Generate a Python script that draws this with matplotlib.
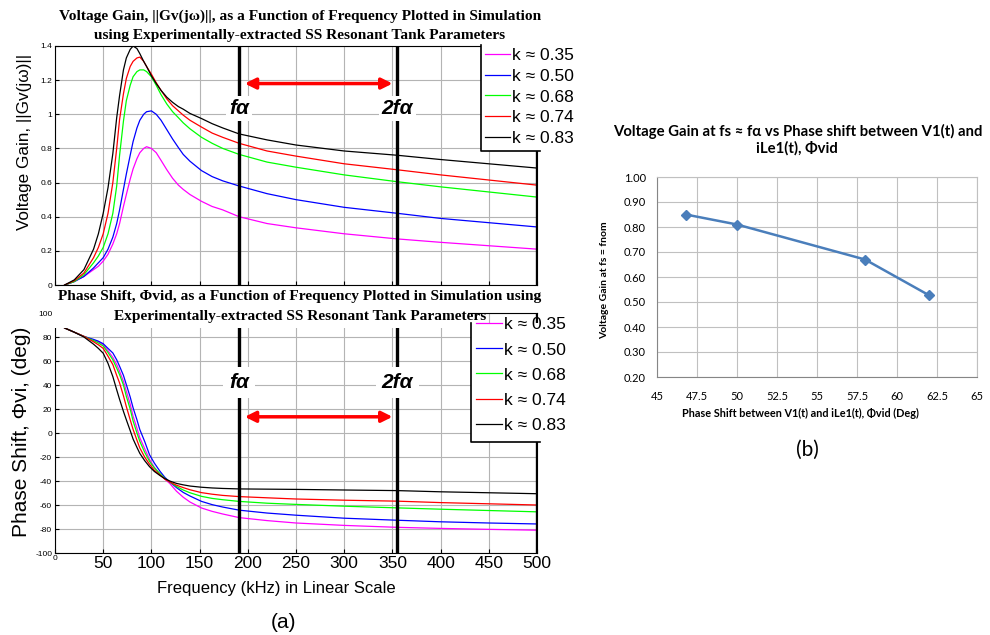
import matplotlib
matplotlib.use("Agg")
import matplotlib.pyplot as plt
from matplotlib.lines import Line2D
from matplotlib.patches import Rectangle

# --- data ---
k_labels = ['k ≈ 0.35', 'k ≈ 0.50', 'k ≈ 0.68', 'k ≈ 0.74', 'k ≈ 0.83']
k_colors = ['#ff00ff', '#0000ff', '#00ff00', '#ff0000', '#000000']

freq_gain = [10, 20, 30, 40, 45, 50, 55, 60, 64, 67, 71, 74, 78, 81, 85, 88, 92, 95, 100, 105,
             110, 116, 122, 128, 133, 140, 152, 163, 174, 191, 220, 250, 300, 355, 400, 450, 500]
gain_035 = [0, 0.02, 0.05, 0.09, 0.11, 0.14, 0.18, 0.24, 0.30, 0.36, 0.46, 0.53, 0.62, 0.68, 0.74, 0.775, 0.80, 0.81, 0.80, 0.775,
            0.73, 0.675, 0.625, 0.585, 0.56, 0.53, 0.49, 0.46, 0.44, 0.40, 0.36, 0.335, 0.30, 0.27, 0.25, 0.23, 0.21]
gain_050 = [0, 0.02, 0.05, 0.10, 0.13, 0.16, 0.21, 0.28, 0.36, 0.44, 0.56, 0.65, 0.76, 0.84, 0.92, 0.965, 1.0, 1.015, 1.02, 1.0,
            0.965, 0.91, 0.855, 0.805, 0.765, 0.725, 0.67, 0.635, 0.61, 0.58, 0.535, 0.50, 0.455, 0.42, 0.39, 0.365, 0.34]
gain_068 = [0, 0.02, 0.06, 0.13, 0.17, 0.22, 0.30, 0.42, 0.58, 0.76, 0.96, 1.08, 1.17, 1.22, 1.25, 1.26, 1.26, 1.25, 1.22, 1.17,
            1.115, 1.06, 1.015, 0.98, 0.95, 0.915, 0.865, 0.83, 0.80, 0.765, 0.72, 0.69, 0.645, 0.605, 0.575, 0.545, 0.515]
gain_074 = [0, 0.025, 0.07, 0.16, 0.22, 0.30, 0.42, 0.60, 0.80, 0.97, 1.12, 1.21, 1.28, 1.31, 1.33, 1.335, 1.31, 1.28, 1.235, 1.185,
            1.14, 1.09, 1.05, 1.02, 0.995, 0.965, 0.925, 0.89, 0.865, 0.83, 0.785, 0.755, 0.71, 0.675, 0.645, 0.615, 0.585]
gain_083 = [0, 0.03, 0.09, 0.21, 0.30, 0.42, 0.57, 0.77, 0.98, 1.11, 1.26, 1.33, 1.38, 1.40, 1.385, 1.355, 1.31, 1.28, 1.225, 1.18,
            1.14, 1.10, 1.07, 1.045, 1.03, 1.005, 0.975, 0.945, 0.92, 0.885, 0.85, 0.82, 0.785, 0.76, 0.735, 0.71, 0.685]

freq_phase = [10, 20, 30, 40, 45, 50, 55, 60, 64, 67, 71, 74, 78, 81, 85, 88, 93, 98, 103, 109,
              114, 119, 126, 133, 140, 152, 163, 174, 191, 220, 250, 300, 355, 400, 450, 500]
phase_035 = [87.5, 84, 80.5, 77.5, 76, 73.5, 68.5, 63, 57, 51.4, 43, 34.7, 24, 14, 4, -4, -13, -22, -28.5, -34.7,
             -38.5, -42, -48.5, -53.5, -57.5, -62.5, -65.3, -67.5, -70.5, -73, -75, -77, -78.6, -79.5, -80.3, -81]
phase_050 = [87.5, 84, 80.5, 78, 76.5, 74.4, 70.5, 66.7, 61, 55.6, 48, 40.3, 30, 21, 11, 2.8, -7, -18, -25, -32,
             -37, -40.8, -45.5, -49.5, -52.5, -57, -59.7, -61.7, -64.3, -66.7, -68.5, -71, -72.7, -74, -75, -75.8]
phase_068 = [87.5, 84, 80.5, 77, 75, 72.5, 67, 61, 54, 48.6, 40, 30.5, 20, 10, 0, -7, -16, -23.6, -29, -34,
             -38, -40.8, -44.5, -47.5, -49.8, -52.8, -54.5, -55.6, -57, -58.5, -59.5, -61, -62.4, -63.5, -64.6, -65.7]
phase_074 = [87.5, 84, 80.5, 76, 73.5, 70.5, 64, 57, 48, 41.7, 31, 22, 11, 3, -6, -12.5, -20, -26, -31, -35,
             -38.5, -40.8, -43.5, -45.5, -47.3, -49.7, -51, -52, -53, -54, -55, -56, -56.8, -58, -59, -60]
phase_083 = [87.5, 84, 80, 74, 70.5, 66.5, 58, 47, 36, 28, 18, 11, 2, -5, -12, -17, -23, -28, -32, -35.5,
             -38, -40, -42, -43.2, -44.2, -45.2, -45.8, -46.2, -46.6, -46.8, -47, -47.5, -48, -49, -49.8, -50.6]

gains = [gain_035, gain_050, gain_068, gain_074, gain_083]
phases = [phase_035, phase_050, phase_068, phase_074, phase_083]

f_alpha = 191
f_2alpha = 355

phase_b = [46.8, 50.0, 58.0, 62.0]
gain_b = [0.85, 0.81, 0.67, 0.527]

W, H = 990, 635
fig = plt.figure(figsize=(W / 100, H / 100), dpi=100)


def box(l, t, r, b):
    return [l / W, 1 - b / H, (r - l) / W, (b - t) / H]


def fx(px):
    return px / W


def fy(py):
    return 1 - py / H


sans = 'Liberation Sans'
serif = 'Liberation Serif'
grid_kw = dict(color='#b4b4b4', lw=0.8)
leg_kw = dict(prop=dict(family=sans, size=12.5), frameon=False, handletextpad=0.12,
              borderpad=0, borderaxespad=0, bbox_transform=fig.transFigure, loc='center left')

# ---------------- (a) top: voltage gain ----------------
ax1 = fig.add_axes(box(55, 46, 537, 285))
h1 = []
for vals, c, lab in zip(gains, k_colors, k_labels):
    h1 += ax1.plot(freq_gain, vals, color=c, lw=0.9, label=lab)
ax1.set_xlim(0, 500)
ax1.set_ylim(0, 1.4)
ax1.set_xticks(range(0, 501, 50))
ax1.set_xticklabels([])
ax1.set_yticks([0, 0.2, 0.4, 0.6, 0.8, 1.0, 1.2, 1.4])
ax1.set_yticklabels(['0', '0.2', '0.4', '0.6', '0.8', '1', '1.2', '1.4'], fontsize=6, family=sans)
ax1.tick_params(direction='in', length=3, pad=2)
ax1.grid(True, **grid_kw)
for f in (f_alpha, f_2alpha, 500):
    ax1.axvline(f, color='black', lw=2.4, zorder=3)
ax1.annotate('', xy=(f_2alpha - 2, 1.18), xytext=(f_alpha + 3, 1.18),
             arrowprops=dict(arrowstyle='<|-|>', color='red', lw=2.5, mutation_scale=16), zorder=4)
for f, s in ((f_alpha, 'fα'), (f_2alpha, '2fα')):
    ax1.text(f, 1.035, s, fontsize=15, fontweight='bold', style='italic', family=sans,
             ha='center', va='center', zorder=5,
             bbox=dict(facecolor='white', edgecolor='none', pad=2))

# ---------------- (a) bottom: phase shift ----------------
ax2 = fig.add_axes(box(55, 313, 537, 553))
h2 = []
for vals, c, lab in zip(phases, k_colors, k_labels):
    h2 += ax2.plot(freq_phase, vals, color=c, lw=0.9, label=lab)
ax2.set_xlim(0, 500)
ax2.set_ylim(-100, 100)
ax2.set_xticks(range(0, 501, 50))
ax2.set_xticklabels([''] + [str(v) for v in range(50, 501, 50)], fontsize=12.5, family=sans)
ax2.text(0, -102, '0', fontsize=6, family=sans, ha='center', va='top')
ax2.set_yticks(range(-100, 101, 20))
ax2.set_yticklabels([str(v) for v in range(-100, 101, 20)], fontsize=6, family=sans)
ax2.tick_params(direction='in', length=3, pad=2)
ax2.tick_params(axis='x', pad=2)
ax2.grid(True, **grid_kw)
for f in (f_alpha, f_2alpha):
    ax2.axvline(f, ymax=0.933, color='black', lw=2.4, zorder=3)
ax2.axvline(500, color='black', lw=2.4, zorder=3)
ax2.annotate('', xy=(f_2alpha - 2, 13.5), xytext=(f_alpha + 3, 13.5),
             arrowprops=dict(arrowstyle='<|-|>', color='red', lw=2.5, mutation_scale=16), zorder=4)
for f, s in ((f_alpha, 'fα'), (f_2alpha, '2fα')):
    ax2.text(f, 42, s, fontsize=15, fontweight='bold', style='italic', family=sans,
             ha='center', va='center', zorder=5,
             bbox=dict(facecolor='white', edgecolor='none', pad=4))

# legend boxes: only the left and bottom edges show in the reference
for l, t, b in ((481, 45, 151), (471, 323, 442)):
    fig.add_artist(Rectangle((fx(l), fy(b)), fx(540 - l), (b - t) / H, transform=fig.transFigure,
                             facecolor='white', edgecolor='none', zorder=1.5))
    fig.add_artist(Line2D([fx(l), fx(l), fx(540)], [fy(t), fy(b), fy(b)], transform=fig.transFigure,
                          color='black', lw=1.2, zorder=1.6))
leg1 = fig.legend(h1, k_labels, bbox_to_anchor=(fx(485), fy(97)), handlelength=1.45, labelspacing=0.32, **leg_kw)
leg2 = fig.legend(h2, k_labels, bbox_to_anchor=(fx(476), fy(375)), handlelength=1.5, labelspacing=0.57, **leg_kw)
leg1.set_zorder(6)
leg2.set_zorder(6)

# white band where the lower title sits over the plot
fig.add_artist(Rectangle((fx(54), fy(328)), fx(468 - 54), 40 / H, transform=fig.transFigure,
                         facecolor='white', edgecolor='none', zorder=2))

title_kw = dict(fontsize=11.1, fontweight='bold', family=serif, ha='center', va='center', zorder=3)
fig.text(fx(300), fy(16), 'Voltage Gain, ||Gv(jω)||, as a Function of Frequency Plotted in Simulation', **title_kw)
fig.text(fx(300), fy(35), 'using Experimentally-extracted SS Resonant Tank Parameters', **title_kw)
fig.text(fx(300), fy(297), 'Phase Shift, Φvid, as a Function of Frequency Plotted in Simulation using', **title_kw)
fig.text(fx(300), fy(316), 'Experimentally-extracted SS Resonant Tank Parameters', **title_kw)

fig.text(fx(25), fy(142), 'Voltage Gain, ||Gv(jω)||', fontsize=12.3, family=sans,
         rotation=90, ha='center', va='center')
fig.text(fx(22), fy(432), 'Phase Shift, Φvi, (deg)', fontsize=15, family=sans,
         rotation=90, ha='center', va='center')
fig.text(fx(276), fy(589), 'Frequency (kHz) in Linear Scale', fontsize=12, family=sans,
         ha='center', va='center')
fig.text(fx(283), fy(622), '(a)', fontsize=15, family=sans, ha='center', va='center')

# ---------------- (b) gain vs phase ----------------
ax3 = fig.add_axes(box(657, 177, 977, 377))
ax3.plot(phase_b, gain_b, color='#4a7ebb', lw=1.8, marker='D', markersize=5)
ax3.set_xlim(45, 65)
ax3.set_ylim(0.2, 1.0)
ax3.set_xticks([45, 47.5, 50, 52.5, 55, 57.5, 60, 62.5, 65])
ax3.set_xticklabels(['45', '47.5', '50', '52.5', '55', '57.5', '60', '62.5', '65'], fontsize=8, family='Lato')
ax3.set_yticks([0.2, 0.3, 0.4, 0.5, 0.6, 0.7, 0.8, 0.9, 1.0])
ax3.set_yticklabels([f'{v:.2f}' for v in [0.2, 0.3, 0.4, 0.5, 0.6, 0.7, 0.8, 0.9, 1.0]], fontsize=8, family='Lato')
ax3.tick_params(length=0, pad=8)
ax3.tick_params(axis='x', pad=10)
ax3.grid(True, color='#c0c0c0', lw=0.8)
for sp in ax3.spines.values():
    sp.set_color('#c0c0c0')
ax3.spines['left'].set_color('#868686')
ax3.spines['bottom'].set_color('#868686')
fig.text(fx(800), fy(413), 'Phase Shift between V1(t) and iLe1(t), Φvid (Deg)', fontsize=7.8,
         fontweight='bold', family='Lato', ha='center', va='center')
fig.text(fx(605), fy(280), 'Voltage Gain at fs = fnom', fontsize=7.5, fontweight='bold', family='Lato',
         rotation=90, ha='center', va='center')
b_title = dict(fontsize=10.7, fontweight='bold', family='Lato', ha='center', va='center')
fig.text(fx(798), fy(131), 'Voltage Gain at fs ≈ fα vs Phase shift between V1(t) and', **b_title)
fig.text(fx(797), fy(148), 'iLe1(t), Φvid', **b_title)
fig.text(fx(807), fy(450), '(b)', fontsize=15, family='Lato', ha='center', va='center')

fig.savefig('out.png', dpi=100)
